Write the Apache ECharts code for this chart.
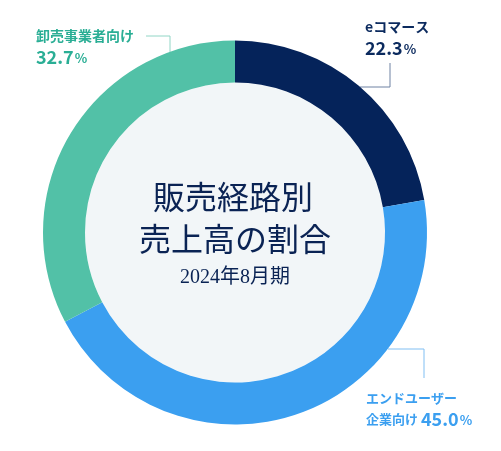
<!DOCTYPE html>
<html>
<head>
<meta charset="utf-8">
<script src="https://cdn.jsdelivr.net/npm/echarts@6/dist/echarts.min.js"></script>
<style>
html,body{margin:0;padding:0;background:#fff;}
#c{width:501px;height:451px;}
</style>
</head>
<body>
<div id="c"></div>
<script>
// ---- data ----
const categories = ['eコマース', 'エンドユーザー企業向け', '卸売事業者向け'];
const values = [22.3, 45.0, 32.7];
const labelLine1 = ['eコマース', 'エンドユーザー', '卸売事業者向け'];
const labelLine2 = ['', '企業向け', ''];
const centerTitle = ['販売経路別', '売上高の割合'];
const centerSub = '2024年8月期';

// ---- styles / layout ----
const ringColors = ['#05235a', '#3b9ff0', '#52c1a7'];
const textColors = ['#0b2a5e', '#3b9ff0', '#2aae95'];
const lineColors = ['#6f82a3', '#80bff3', '#92d6c6'];
const cx = 235, cy = 232.5, rIn = 150, rOut = 192;
const labelPos = [
  {x: 365, y: 17, pts: [[360, 87], [390, 87], [390, 63]]},
  {x: 366, y: 388, pts: [[388, 349], [424, 349], [424, 378]]},
  {x: 36, y: 26, pts: [[170, 52], [170, 36], [146, 36]]}
];

const chart = echarts.init(document.getElementById('c'), null, {renderer: 'canvas'});
const fam = '"Noto Sans CJK JP", "Noto Sans", sans-serif';
const serif = '"Liberation Serif", "DejaVu Serif", "Noto Sans CJK JP", serif';

const data = categories.map((name, i) => ({
  name,
  value: values[i],
  itemStyle: {color: ringColors[i]},
  label: {color: textColors[i]},
  labelLine: {lineStyle: {color: lineColors[i], width: 1}}
}));

chart.setOption({
  animation: false,
  graphic: [
    {type: 'circle', shape: {cx: cx, cy: cy, r: rIn}, style: {fill: '#f2f6f8'}, z: 0, silent: true},
    {type: 'text', x: 233, y: 201, style: {text: centerTitle[0], font: 'normal 32px ' + serif, fill: '#0a2354', align: 'center', verticalAlign: 'middle'}, z: 10},
    {type: 'text', x: 235, y: 243, style: {text: centerTitle[1], font: 'normal 32px ' + serif, fill: '#0a2354', align: 'center', verticalAlign: 'middle'}, z: 10},
    {type: 'text', x: 235, y: 278, style: {text: centerSub, font: 'normal 20px ' + serif, fill: '#0a2354', align: 'center', verticalAlign: 'middle'}, z: 10}
  ],
  series: [{
    type: 'pie',
    center: [cx, cy],
    radius: [rIn, rOut],
    startAngle: 90,
    clockwise: true,
    avoidLabelOverlap: false,
    silent: true,
    itemStyle: {borderWidth: 0},
    label: {
      show: true,
      position: 'outside',
      fontFamily: fam,
      formatter: function (p) {
        const i = p.dataIndex;
        const v = values[i].toFixed(1);
        const nk = i === 1 ? 'n2' : 'n';
        if (labelLine2[i]) {
          return '{' + nk + '|' + labelLine1[i] + '}\n{' + nk + '|' + labelLine2[i] + ' }{v|' + v + '}{p|%}';
        }
        return '{' + nk + '|' + labelLine1[i] + '}\n{v|' + v + '}{p|%}';
      },
      rich: {
        n: {fontSize: 14, fontWeight: 'bold', lineHeight: 20, fontFamily: fam},
        n2: {fontSize: 13, fontWeight: 'bold', lineHeight: 20, fontFamily: fam},
        v: {fontSize: 18, fontWeight: 'bold', lineHeight: 22, fontFamily: fam, padding: [0, 1, 0, 0]},
        p: {fontSize: 13, fontWeight: 'bold', lineHeight: 22, fontFamily: fam, padding: [3, 0, 0, 0]}
      }
    },
    labelLine: {show: true, length: 10, length2: 10, smooth: false},
    labelLayout: function (params) {
      const lp = labelPos[params.dataIndex];
      return {
        x: lp.x,
        y: lp.y,
        align: 'left',
        verticalAlign: 'top',
        labelLinePoints: lp.pts
      };
    },
    data: data
  }]
});
</script>
</body>
</html>
